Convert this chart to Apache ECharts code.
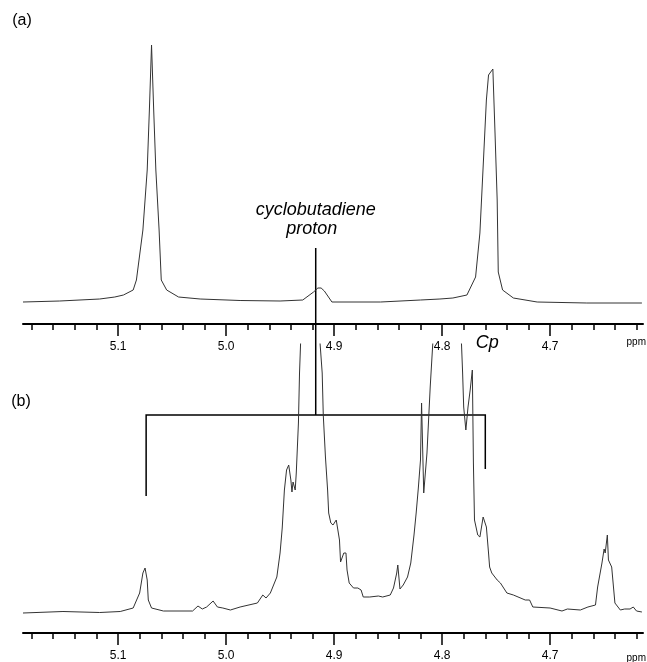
<!DOCTYPE html>
<html>
<head>
<meta charset="utf-8">
<script src="https://cdn.jsdelivr.net/npm/echarts@6/dist/echarts.min.js"></script>
<style>
html,body{margin:0;padding:0;background:#fff;}
#main{width:647px;height:662px;}
</style>
</head>
<body>
<div id="main"></div>
<script>
// spectrum (a): chemical shift (ppm) and intensity (arb.)
var ppmA = [5.188,5.154,5.117,5.103,5.095,5.086,5.083,5.077,5.073,5.071,
            5.069,5.067,5.065,5.062,5.060,5.055,5.044,5.024,4.987,4.950,
            4.929,4.919,4.915,4.912,4.909,4.902,4.857,4.820,4.802,4.790,
            4.777,4.769,4.765,4.762,4.759,4.757,4.753,4.751,4.749,4.748,
            4.744,4.734,4.712,4.666,4.615];
var intA = [0,1,3,5,7,12,22,72,132,192,
            257,192,132,72,22,12,5,3,1.5,1,
            2,10,14,14,11,0,0,2,3,4,
            7,25,69,135,202,227,233,169,102,30,
            12,4,0,-1,-1];

// spectrum (b) - big peaks go off scale, their tops are guesses
var ppmB = [5.188,5.151,5.117,5.098,5.086,5.080,5.077,5.075,5.073,5.072,
            5.069,5.058,5.031,5.026,5.022,5.018,5.012,5.008,5.003,4.996,
            4.987,4.971,4.966,4.963,4.959,4.953,4.950,4.948,4.946,4.944,
            4.942,4.940,4.939,4.938,4.936,4.935,4.933,4.932,4.931,4.921,
            4.913,4.911,4.910,4.908,4.906,4.905,4.903,4.901,4.898,4.897,
            4.895,4.894,4.893,4.891,4.889,4.888,4.886,4.882,4.878,4.875,
            4.873,4.867,4.859,4.855,4.848,4.845,4.842,4.841,4.840,4.839,
            4.836,4.832,4.829,4.826,4.824,4.822,4.820,4.819,4.817,4.814,
            4.811,4.796,4.782,4.781,4.780,4.778,4.776,4.774,4.772,4.771,
            4.770,4.769,4.767,4.765,4.762,4.759,4.757,4.756,4.754,4.749,
            4.746,4.740,4.734,4.723,4.719,4.716,4.700,4.689,4.684,4.672,
            4.665,4.658,4.656,4.652,4.650,4.649,4.647,4.646,4.643,4.640,
            4.635,4.631,4.626,4.623,4.620,4.615];
var intB = [0,1.5,0.5,1.5,5,20,40,45,33,13,
            5,2,2,7,4,6,12,6,5,3,
            6,10,18,15,20,36,60,85,123,143,
            148,133,121,131,123,140,190,240,270,600,
            270,240,198,156,123,100,90,88,93,91,
            73,51,50,60,60,43,30,25,25,23,
            16,16,17,16,18,25,40,48,36,24,
            28,36,50,78,100,125,153,210,120,160,
            226,500,268,240,206,183,206,223,243,150,
            93,88,78,76,96,86,60,46,40,33,
            30,20,18,13,13,6,5,2,4,3,
            6,8,26,50,64,60,78,53,46,10,
            3,4,4,6,2,1];

var majorTicks = [4.7,4.8,4.9,5.0,5.1];
var minorTicks = [4.62,4.64,4.66,4.68,4.72,4.74,4.76,4.78,4.82,4.84,4.86,4.88,
                  4.92,4.94,4.96,4.98,5.02,5.04,5.06,5.08,5.12,5.14,5.16,5.18];

// annotation positions (ppm / intensity)
var cbdPpm = 4.917, cbdTopA = 54;
var cpLeft = 5.074, cpRight = 4.760, cpLevelB = 198;
var cpLegEnd = [117, 144];

var xMin = 4.614, xMax = 5.188;
var font = '"Liberation Sans", Arial, sans-serif';

function zip(xs, ys) {
    var out = [];
    for (var i = 0; i < xs.length; i++) out.push([xs[i], ys[i]]);
    return out;
}

function minorAxis(g) {
    return {
        type: 'value', gridIndex: g, min: xMin, max: xMax, inverse: true,
        axisLine: {show: true, onZero: false, lineStyle: {color: '#000', width: 2}},
        axisTick: {show: true, customValues: minorTicks, length: 6, lineStyle: {color: '#000', width: 1.5}},
        axisLabel: {show: false},
        splitLine: {show: false}
    };
}
function majorAxis(g) {
    return {
        type: 'value', gridIndex: g, min: xMin, max: xMax, inverse: true,
        axisLine: {show: false},
        axisTick: {show: true, customValues: majorTicks, length: 12, lineStyle: {color: '#000', width: 1.5}},
        axisLabel: {
            show: true, customValues: majorTicks, margin: 17,
            fontSize: 12, color: '#000', fontFamily: font,
            formatter: function (v) { return v.toFixed(1); }
        },
        splitLine: {show: false}
    };
}

var gridA = {left: 23, right: 4, top: 40, height: 284, outerBoundsMode: 'none'};
var gridB = {left: 23, right: 4, top: 344, height: 289, outerBoundsMode: 'none'};

var chart = echarts.init(document.getElementById('main'));
var option = {
    animation: false,
    backgroundColor: '#fff',
    grid: [gridA, gridB, gridA, gridB],
    xAxis: [minorAxis(0), minorAxis(1), majorAxis(2), majorAxis(3)],
    yAxis: [
        {type: 'value', gridIndex: 0, min: -22, max: 262, show: false},
        {type: 'value', gridIndex: 1, min: -20, max: 269, show: false},
        {type: 'value', gridIndex: 2, min: 0, max: 1, show: false},
        {type: 'value', gridIndex: 3, min: 0, max: 1, show: false}
    ],
    series: [
        {
            type: 'line', xAxisIndex: 0, yAxisIndex: 0,
            data: zip(ppmA, intA), showSymbol: false, clip: true,
            lineStyle: {color: '#333', width: 1}
        },
        {
            type: 'line', xAxisIndex: 1, yAxisIndex: 1,
            data: zip(ppmB, intB), showSymbol: false, clip: true,
            lineStyle: {color: '#333', width: 1}
        }
    ]
};
chart.setOption(option);

// annotations: cyclobutadiene marker + Cp bracket
var cbdTop = chart.convertToPixel({xAxisIndex: 0, yAxisIndex: 0}, [cbdPpm, cbdTopA]);
var cbdBot = chart.convertToPixel({xAxisIndex: 1, yAxisIndex: 1}, [cbdPpm, cpLevelB]);
var legL = chart.convertToPixel({xAxisIndex: 1, yAxisIndex: 1}, [cpLeft, cpLegEnd[0]]);
var legR = chart.convertToPixel({xAxisIndex: 1, yAxisIndex: 1}, [cpRight, cpLegEnd[1]]);
var axA = chart.convertToPixel({xAxisIndex: 0, yAxisIndex: 0}, [xMin, -22]);
var axB = chart.convertToPixel({xAxisIndex: 1, yAxisIndex: 1}, [xMin, -20]);

var markStyle = {stroke: '#000', lineWidth: 1.5, fill: null};
chart.setOption({
    graphic: [
        {type: 'line', shape: {x1: cbdTop[0], y1: cbdTop[1], x2: cbdBot[0], y2: cbdBot[1]}, style: markStyle},
        {type: 'polyline', shape: {points: [[legL[0], legL[1]], [legL[0], cbdBot[1]], [legR[0], cbdBot[1]], [legR[0], legR[1]]]}, style: markStyle},
        {type: 'text', x: cbdTop[0], y: cbdTop[1] - 38, style: {text: 'cyclobutadiene', font: 'italic 18px ' + font, fill: '#000', align: 'center', verticalAlign: 'middle'}},
        {type: 'text', x: cbdTop[0] - 4, y: cbdTop[1] - 19, style: {text: 'proton', font: 'italic 18px ' + font, fill: '#000', align: 'center', verticalAlign: 'middle'}},
        {type: 'text', x: legR[0] + 2, y: cbdBot[1] - 72, style: {text: 'Cp', font: 'italic 18px ' + font, fill: '#000', align: 'center', verticalAlign: 'middle'}},
        {type: 'text', x: 22, y: 21, style: {text: '(a)', font: '16px ' + font, fill: '#000', align: 'center', verticalAlign: 'middle'}},
        {type: 'text', x: 21, y: 402, style: {text: '(b)', font: '16px ' + font, fill: '#000', align: 'center', verticalAlign: 'middle'}},
        {type: 'text', x: axA[0] + 3, y: axA[1] + 18, style: {text: 'ppm', font: '10px ' + font, fill: '#000', align: 'right', verticalAlign: 'middle'}},
        {type: 'text', x: axB[0] + 3, y: axB[1] + 25, style: {text: 'ppm', font: '10px ' + font, fill: '#000', align: 'right', verticalAlign: 'middle'}}
    ]
});
</script>
</body>
</html>
